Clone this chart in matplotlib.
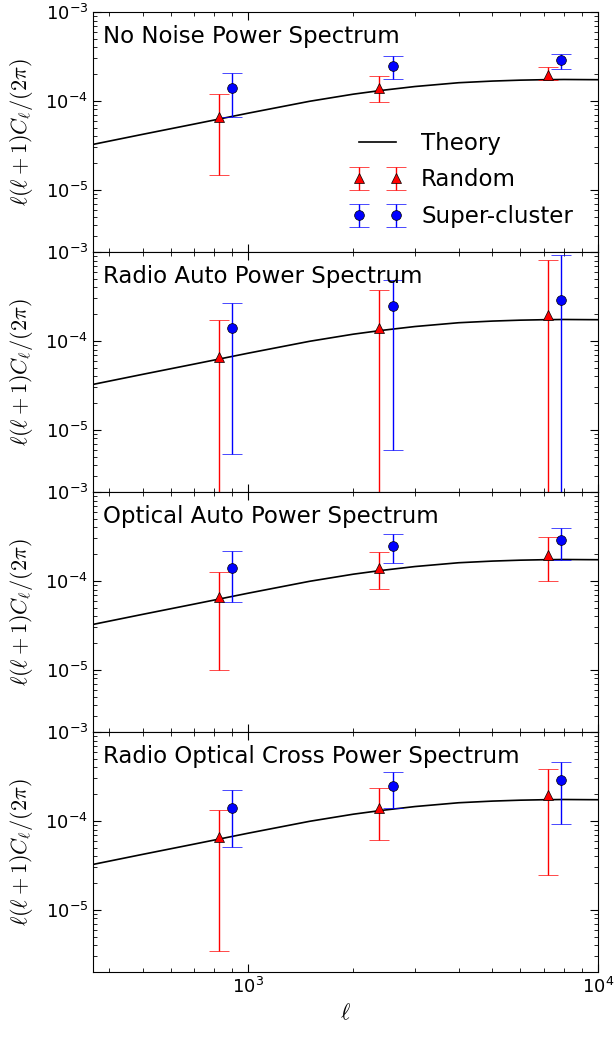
import matplotlib
matplotlib.use('Agg')
import matplotlib.pyplot as plt

plt.rcParams['mathtext.fontset'] = 'cm'
plt.rcParams['font.family'] = 'DejaVu Sans'

# theory curve, l(l+1)C_l/2pi
ell_theory = [360, 500, 700, 1000, 1500, 2000, 2400, 3000, 4000, 5000, 6000, 7000, 8000, 10000]
cl_theory = [3.24e-5, 4.21e-5, 5.48e-5, 7.27e-5, 9.9e-5, 1.19e-4, 1.31e-4, 1.45e-4,
             1.60e-4, 1.67e-4, 1.71e-4, 1.73e-4, 1.74e-4, 1.73e-4]

# band centres
ell_random = [825, 2375, 7200]
ell_super = [900, 2590, 7850]

cl_random = [6.6e-5, 1.40e-4, 1.97e-4]
cl_super = [1.38e-4, 2.44e-4, 2.85e-4]

titles = ['No Noise Power Spectrum', 'Radio Auto Power Spectrum',
          'Optical Auto Power Spectrum', 'Radio Optical Cross Power Spectrum']

# error bar limits (low, high) for each panel
random_low = [[1.47e-5, 9.6e-5, 1.70e-4],
              [1e-7, 1e-7, 1e-7],
              [9.9e-6, 8.2e-5, 1.0e-4],
              [3.47e-6, 6.07e-5, 2.48e-5]]
random_high = [[1.18e-4, 1.92e-4, 2.40e-4],
               [1.73e-4, 3.69e-4, 8.13e-4],
               [1.25e-4, 2.11e-4, 3.13e-4],
               [1.34e-4, 2.32e-4, 3.82e-4]]
super_low = [[6.56e-5, 1.76e-4, 2.28e-4],
             [5.33e-6, 5.9e-6, 1e-7],
             [5.86e-5, 1.59e-4, 1.72e-4],
             [5.15e-5, 1.40e-4, 9.25e-5]]
super_high = [[2.06e-4, 3.16e-4, 3.39e-4],
              [2.68e-4, 4.82e-4, 9.33e-4],
              [2.18e-4, 3.36e-4, 3.92e-4],
              [2.24e-4, 3.56e-4, 4.61e-4]]

fig, axes = plt.subplots(4, 1, sharex=True, figsize=(6.14, 10.39), dpi=100)
fig.subplots_adjust(left=0.1515, right=0.9735, top=0.9885, bottom=0.0645, hspace=0)

for i, ax in enumerate(axes):
    ax.plot(ell_theory, cl_theory, 'k-', lw=1.2, label='Theory')
    rerr = [[c - lo for c, lo in zip(cl_random, random_low[i])],
            [hi - c for c, hi in zip(cl_random, random_high[i])]]
    serr = [[c - lo for c, lo in zip(cl_super, super_low[i])],
            [hi - c for c, hi in zip(cl_super, super_high[i])]]
    ax.errorbar(ell_random, cl_random, yerr=rerr, fmt='^', color='red', ecolor='red',
                mec='k', mew=0.5, ms=7, capsize=7, elinewidth=1, label='Random')
    ax.errorbar(ell_super, cl_super, yerr=serr, fmt='o', color='blue', ecolor='blue',
                mec='k', mew=0.5, ms=7, capsize=7, elinewidth=1, label='Super-cluster')
    ax.set_xscale('log')
    ax.set_yscale('log')
    ax.set_xlim(360, 1e4)
    ax.set_ylim(2e-6, 1e-3)
    ax.text(0.02, 0.945, titles[i], transform=ax.transAxes, fontsize=16.5, va='top', ha='left')
    ax.set_ylabel(r'$\ell(\ell+1)C_\ell/(2\pi)$', fontsize=16)
    ax.tick_params(which='both', direction='in', top=True, right=True, labelsize=13)
    ax.tick_params(which='major', length=5.5)
    ax.tick_params(which='minor', length=3)
    ax.yaxis.set_label_coords(-0.115, 0.5)

axes[0].legend(loc='lower right', bbox_to_anchor=(0.992, 0.013), frameon=False,
               numpoints=2, fontsize=16.5, handlelength=2.2, handletextpad=0.8,
               labelspacing=0.6)
axes[-1].set_xlabel(r'$\ell$', fontsize=16)

plt.savefig('out.png')
